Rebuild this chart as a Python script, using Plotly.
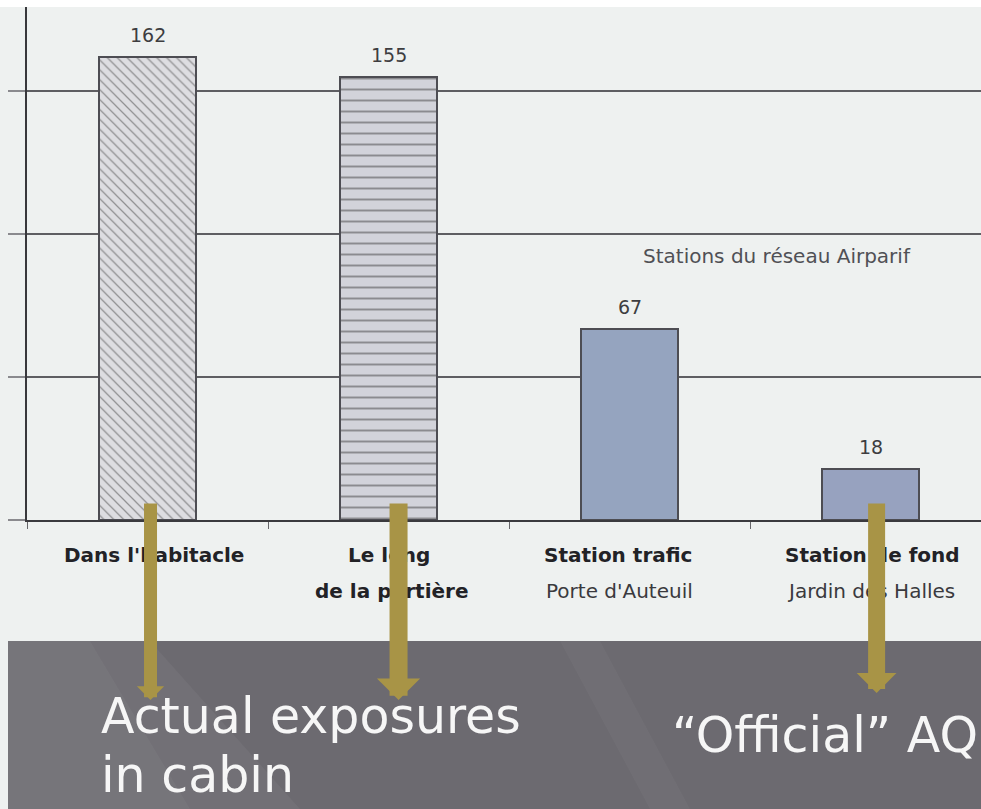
import plotly.graph_objects as go

# ---- data -------------------------------------------------------------
categories = ["Dans l'habitacle", "Le long de la portière",
              "Station trafic", "Station de fond"]
values = [162, 155, 67, 18]
label_line1 = ["Dans l'habitacle", "Le long", "Station trafic", "Station de fond"]
label_line2 = ["", "de la portière", "Porte d'Auteuil", "Jardin des Halles"]
grid_values = [0, 50, 100, 150]
group_note = "Stations du réseau Airparif"
callout_left = ["Actual exposures", "in cabin"]
callout_right = "“Official” AQ"

# ---- page geometry (pixels) ------------------------------------------
W, H = 981, 809


def px(x):
    return x / W


def py(y):
    return 1 - y / H


bar_colors = ["#dddde1", "#d2d3da", "#95a4bf", "#97a2bf"]
bar_patterns = ["\\", "-", "", ""]
pattern_sizes = [7, 11, 8, 8]

fig = go.Figure()
fig.add_trace(go.Bar(
    x=categories,
    y=values,
    width=0.405,
    marker=dict(
        color=bar_colors,
        line=dict(color="#4d4d53", width=2),
        pattern=dict(shape=bar_patterns, fgcolor="#a3a3ab", size=pattern_sizes,
                     solidity=0.18, fillmode="overlay"),
    ),
    hoverinfo="skip",
    showlegend=False,
))

annotations = []

# value labels above the bars
for c, v in zip(categories, values):
    annotations.append(dict(
        x=c, y=v, xref="x", yref="y", text=str(v), showarrow=False,
        yanchor="bottom", yshift=9,
        font=dict(family="DejaVu Sans", size=19, color="#3d3d40"),
    ))

# group note
annotations.append(dict(
    x=px(777), y=py(256), xref="paper", yref="paper", text=group_note,
    showarrow=False, xanchor="center", yanchor="middle",
    font=dict(family="DejaVu Sans", size=20, color="#505055"),
))

# category labels (two lines each)
line1_shift = [6, 0, -12, 2]
line2_shift = [0, 3, -10, 0]
for i, c in enumerate(categories):
    annotations.append(dict(
        x=c, y=py(555), xref="x", yref="paper", text="<b>%s</b>" % label_line1[i],
        showarrow=False, xanchor="center", yanchor="middle", xshift=line1_shift[i],
        font=dict(family="DejaVu Sans", size=20, color="#222226"),
    ))
    if label_line2[i]:
        txt = label_line2[i]
        if i == 1:
            txt = "<b>%s</b>" % txt
        annotations.append(dict(
            x=c, y=py(591), xref="x", yref="paper", text=txt,
            showarrow=False, xanchor="center", yanchor="middle", xshift=line2_shift[i],
            font=dict(family="DejaVu Sans", size=20,
                      color="#222226" if i == 1 else "#3a3a3e"),
        ))

# olive arrows pointing from the bars to the callouts
arrow_specs = [  # (category index, x shift, tip y, shaft width, head size)
    (0, 3, 700, 13, 0.35),
    (1, 10, 700, 18, 0.4),
    (3, 6, 693, 17, 0.39),
]
for idx, xs, tip, wdt, hs in arrow_specs:
    annotations.append(dict(
        x=categories[idx], y=py(tip), xref="x", yref="paper", text="",
        showarrow=True, ax=0, ay=-(tip - 502), axref="pixel", ayref="pixel",
        xshift=xs, arrowhead=1, arrowsize=hs, arrowwidth=wdt,
        arrowcolor="#a89446", standoff=0,
    ))

# white callout text on the dark band
callout_font = dict(family="DejaVu Sans", size=49, color="#f6f6f6")
annotations.append(dict(x=px(99), y=py(716), xref="paper", yref="paper",
                        text=callout_left[0], showarrow=False, xanchor="left",
                        yanchor="middle", font=callout_font))
annotations.append(dict(x=px(99), y=py(775), xref="paper", yref="paper",
                        text=callout_left[1], showarrow=False, xanchor="left",
                        yanchor="middle", font=callout_font))
annotations.append(dict(x=px(670), y=py(735), xref="paper", yref="paper",
                        text=callout_right, showarrow=False, xanchor="left",
                        yanchor="middle", font=callout_font))

shapes = [
    # thin white strip along the top edge
    dict(type="rect", xref="paper", yref="paper", x0=0, x1=1, y0=py(7), y1=1,
         fillcolor="#ffffff", line=dict(width=0), layer="above"),
    # dark band along the bottom
    dict(type="rect", xref="paper", yref="paper", x0=px(8), x1=1, y0=0, y1=py(641),
         fillcolor="#6c6a70", line=dict(width=0), layer="above"),
    # soft diagonal sheens on the band
    dict(type="path", xref="paper", yref="paper",
         path="M %f,%f L %f,%f L %f,%f L %f,%f Z" % (
             px(8), py(641), px(150), py(641), px(300), py(809), px(8), py(809)),
         fillcolor="rgba(255,255,255,0.045)", line=dict(width=0), layer="above"),
    dict(type="path", xref="paper", yref="paper",
         path="M %f,%f L %f,%f L %f,%f L %f,%f Z" % (
             px(8), py(641), px(90), py(641), px(190), py(809), px(8), py(809)),
         fillcolor="rgba(255,255,255,0.035)", line=dict(width=0), layer="above"),
    dict(type="path", xref="paper", yref="paper",
         path="M %f,%f L %f,%f L %f,%f L %f,%f Z" % (
             px(560), py(641), px(600), py(641), px(690), py(809), px(650), py(809)),
         fillcolor="rgba(255,255,255,0.03)", line=dict(width=0), layer="above"),
]

fig.update_layout(
    width=W, height=H, autosize=False,
    margin=dict(l=0, r=0, t=0, b=0, pad=0),
    paper_bgcolor="#eef1f0",
    plot_bgcolor="#eef1f0",
    bargap=0,
    xaxis=dict(
        type="category", categoryorder="array", categoryarray=categories,
        range=[-0.5, 3.458], domain=[px(27), 1],
        showline=True, linecolor="#3a3a3e", linewidth=2,
        ticks="outside", tickson="boundaries", ticklen=7, tickwidth=1,
        tickcolor="#66666a", showticklabels=False, showgrid=False,
        zeroline=False, fixedrange=True,
    ),
    yaxis=dict(
        range=[0, 179.5], domain=[py(520), py(7)],
        showline=True, linecolor="#38383c", linewidth=2,
        ticks="outside", ticklen=17, tickwidth=2, tickcolor="#8a8a8e",
        tickmode="array", tickvals=grid_values, showticklabels=False,
        showgrid=True, gridcolor="#5e5e62", gridwidth=2,
        zeroline=False, fixedrange=True,
    ),
    annotations=annotations,
    shapes=shapes,
)

fig.write_html("out.html")
